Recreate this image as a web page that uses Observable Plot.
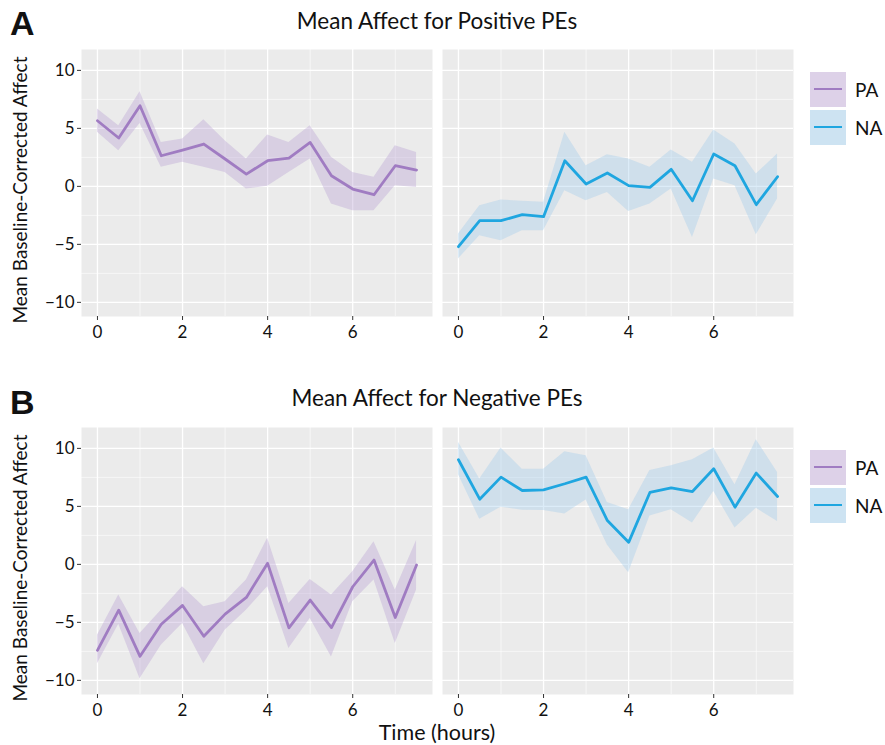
<!DOCTYPE html>
<html>
<head>
<meta charset="utf-8">
<script src="https://cdn.jsdelivr.net/npm/d3@7"></script>
<script src="https://cdn.jsdelivr.net/npm/@observablehq/plot@0.6"></script>
<style>
  html, body { margin: 0; padding: 0; background: #ffffff; }
  #root { position: relative; width: 885px; height: 745px; font-family: Lato, "Open Sans", sans-serif; color: #111; overflow: hidden; }
  .abs { position: absolute; white-space: nowrap; }
  .letter { font-family: "Liberation Sans", Arial, sans-serif; font-weight: bold; font-size: 34px; line-height: 40px; }
  .title { font-size: 22.5px; width: 712px; text-align: center; left: 81px; line-height: 27px; }
  .ytitle { font-size: 19px; transform: rotate(-90deg); transform-origin: center; width: 320px; text-align: center; }
  .legend-row { display: flex; align-items: center; height: 38px; }
  .key { width: 36px; height: 35px; position: relative; margin-right: 9px; }
  .key .ln { position: absolute; left: 4px; right: 4px; top: 16px; height: 2.5px; }
  .legend-row span { font-size: 19px; }
</style>
</head>
<body>
<div id="root"></div>
<script>
// ---------- data ----------
const times = [0, 0.5, 1, 1.5, 2, 2.5, 3, 3.5, 4, 4.5, 5, 5.5, 6, 6.5, 7, 7.5];
const seriesNames = ["PA", "NA"];
const rowTitles = ["Mean Affect for Positive PEs", "Mean Affect for Negative PEs"];
const rowLetters = ["A", "B"];
const yTicks = [-10, -5, 0, 5, 10];
const xTicks = [0, 2, 4, 6];

// Positive PEs
const posPA    = [5.66, 4.17, 6.95, 2.64, 3.13, 3.65, 2.36, 1.06, 2.21, 2.44, 3.79, 0.92, -0.23, -0.72, 1.78, 1.41];
const posPAlo  = [4.66, 3.07, 5.43, 1.64, 2.07, 1.64, 1.20, -0.23, 0.00, 1.20, 2.36, -1.52, -2.10, -2.10, 0.06, -0.09];
const posPAhi  = [6.67, 5.23, 8.16, 3.79, 4.08, 5.75, 3.94, 2.36, 4.43, 3.79, 5.23, 2.50, 1.20, 0.78, 3.50, 2.93];
const posNA    = [-5.20, -2.96, -2.96, -2.44, -2.61, 2.21, 0.20, 1.15, 0.06, -0.09, 1.47, -1.24, 2.79, 1.78, -1.58, 0.83];
const posNAlo  = [-6.26, -4.25, -4.68, -3.82, -3.82, -0.37, -1.24, -0.52, -2.16, -1.52, -0.23, -4.40, 0.63, 0.06, -4.17, -1.09];
const posNAhi  = [-4.11, -1.67, -1.18, -1.29, -1.38, 4.66, 1.78, 2.73, 2.36, 1.64, 3.13, 2.07, 4.86, 3.65, 1.06, 2.79];

// Negative PEs
const negPA    = [-7.41, -3.95, -7.93, -5.16, -3.54, -6.20, -4.29, -2.85, 0.09, -5.48, -3.08, -5.45, -1.93, 0.37, -4.58, -0.06];
const negPAlo  = [-8.56, -5.16, -9.86, -6.97, -5.10, -8.56, -5.68, -3.95, -1.93, -7.26, -4.67, -7.98, -3.23, -1.35, -6.83, -2.22];
const negPAhi  = [-6.11, -2.65, -5.97, -3.95, -1.93, -3.66, -3.23, -1.35, 2.25, -3.37, -1.30, -2.65, -0.63, 1.96, -2.22, 2.05];
const negNA    = [9.02, 5.62, 7.52, 6.37, 6.43, 6.95, 7.52, 3.78, 1.90, 6.20, 6.60, 6.28, 8.24, 4.93, 7.87, 5.85];
const negNAlo  = [7.72, 3.89, 4.93, 4.67, 4.64, 4.35, 5.56, 1.67, -0.72, 4.18, 4.70, 3.56, 6.28, 3.13, 4.84, 3.69];
const negNAhi  = [10.52, 7.35, 10.03, 8.21, 8.21, 9.71, 9.37, 5.33, 4.70, 8.10, 8.50, 9.02, 10.03, 6.86, 10.75, 7.93];

const colors = { PA: "#a07cc2", NA: "#1fa6e0" };
const fills  = { PA: "#b59ad0", NA: "#9cc9ea" };

function rows(v, lo, hi) { return times.map((t, i) => ({ t, v: v[i], lo: lo[i], hi: hi[i] })); }

const panels = [
  [rows(posPA, posPAlo, posPAhi), rows(posNA, posNAlo, posNAhi)],
  [rows(negPA, negPAlo, negPAhi), rows(negNA, negNAlo, negNAhi)]
];

const root = document.getElementById("root");
function addDiv(cls, text, css) {
  const d = document.createElement("div");
  d.className = "abs " + cls;
  d.textContent = text;
  Object.assign(d.style, css);
  root.appendChild(d);
  return d;
}

const rowTop = [40, 418];
const panelH = 267;
const marginTop = 9;
const minorX = [1, 3, 5, 7];
const minorY = [-7.5, -2.5, 2.5, 7.5];

panels.forEach((pair, r) => {
  pair.forEach((data, c) => {
    const name = seriesNames[c];
    const isLeft = c === 0;
    const mL = isLeft ? 81 : 5;
    const width = isLeft ? 437 : 361;
    const svg = Plot.plot({
      width,
      height: marginTop + panelH + 40,
      marginLeft: mL,
      marginRight: 5,
      marginTop,
      marginBottom: 40,
      style: { background: "transparent", fontFamily: "Lato, 'Open Sans', sans-serif", fontSize: "17px", color: "#111", overflow: "visible" },
      x: { domain: [-0.375, 7.875], axis: null },
      y: { domain: [-11.22, 11.8], axis: null },
      marks: [
        Plot.frame({ fill: "#ebebeb", stroke: null }),
        Plot.ruleY(minorY, { stroke: "#ffffff", strokeWidth: 0.6 }),
        Plot.ruleX(minorX, { stroke: "#ffffff", strokeWidth: 0.6 }),
        Plot.ruleY(yTicks, { stroke: "#ffffff", strokeWidth: 1.3 }),
        Plot.ruleX(xTicks, { stroke: "#ffffff", strokeWidth: 1.3 }),
        Plot.areaY(data, { x: "t", y1: "lo", y2: "hi", fill: fills[name], fillOpacity: 0.35 }),
        Plot.lineY(data, { x: "t", y: "v", stroke: colors[name], strokeWidth: 2.8 }),
        Plot.axisX(xTicks, { tickSize: 4, tickPadding: 5, stroke: "#333", label: null, fontSize: 17 }),
        ...(isLeft ? [Plot.axisY(yTicks, { tickSize: 4, tickPadding: 3, stroke: "#333", label: null, fontSize: 17 })] : [])
      ]
    });
    svg.style.position = "absolute";
    svg.style.left = (isLeft ? 0 : 437) + "px";
    svg.style.top = rowTop[r] + "px";
    root.appendChild(svg);
  });

  // titles
  addDiv("letter", rowLetters[r], { left: "10px", top: (rowTop[r] - 37 + (r ? 1 : 0)) + "px" });
  addDiv("title", rowTitles[r], { top: (rowTop[r] - 33 + (r ? -1 : 0)) + "px" });
  // y-axis title
  const cy = rowTop[r] + marginTop + panelH / 2 + 7;
  addDiv("ytitle", "Mean Baseline-Corrected Affect", { left: (20 - 160) + "px", top: (cy - 12) + "px", height: "24px", lineHeight: "24px" });

  // legend
  const lg = document.createElement("div");
  lg.className = "abs";
  Object.assign(lg.style, { left: "810px", top: (rowTop[r] + 30) + "px" });
  seriesNames.forEach(n => {
    const row = document.createElement("div");
    row.className = "legend-row";
    const key = document.createElement("div");
    key.className = "key";
    key.style.background = n === "PA" ? "#ddd1e8" : "#cde3f2";
    const ln = document.createElement("div");
    ln.className = "ln";
    ln.style.background = colors[n];
    key.appendChild(ln);
    const sp = document.createElement("span");
    sp.textContent = n;
    row.appendChild(key);
    row.appendChild(sp);
    lg.appendChild(row);
  });
  root.appendChild(lg);
});

addDiv("title", "Time (hours)", { top: "719px", fontSize: "21.5px", lineHeight: "26px" });
</script>
</body>
</html>
